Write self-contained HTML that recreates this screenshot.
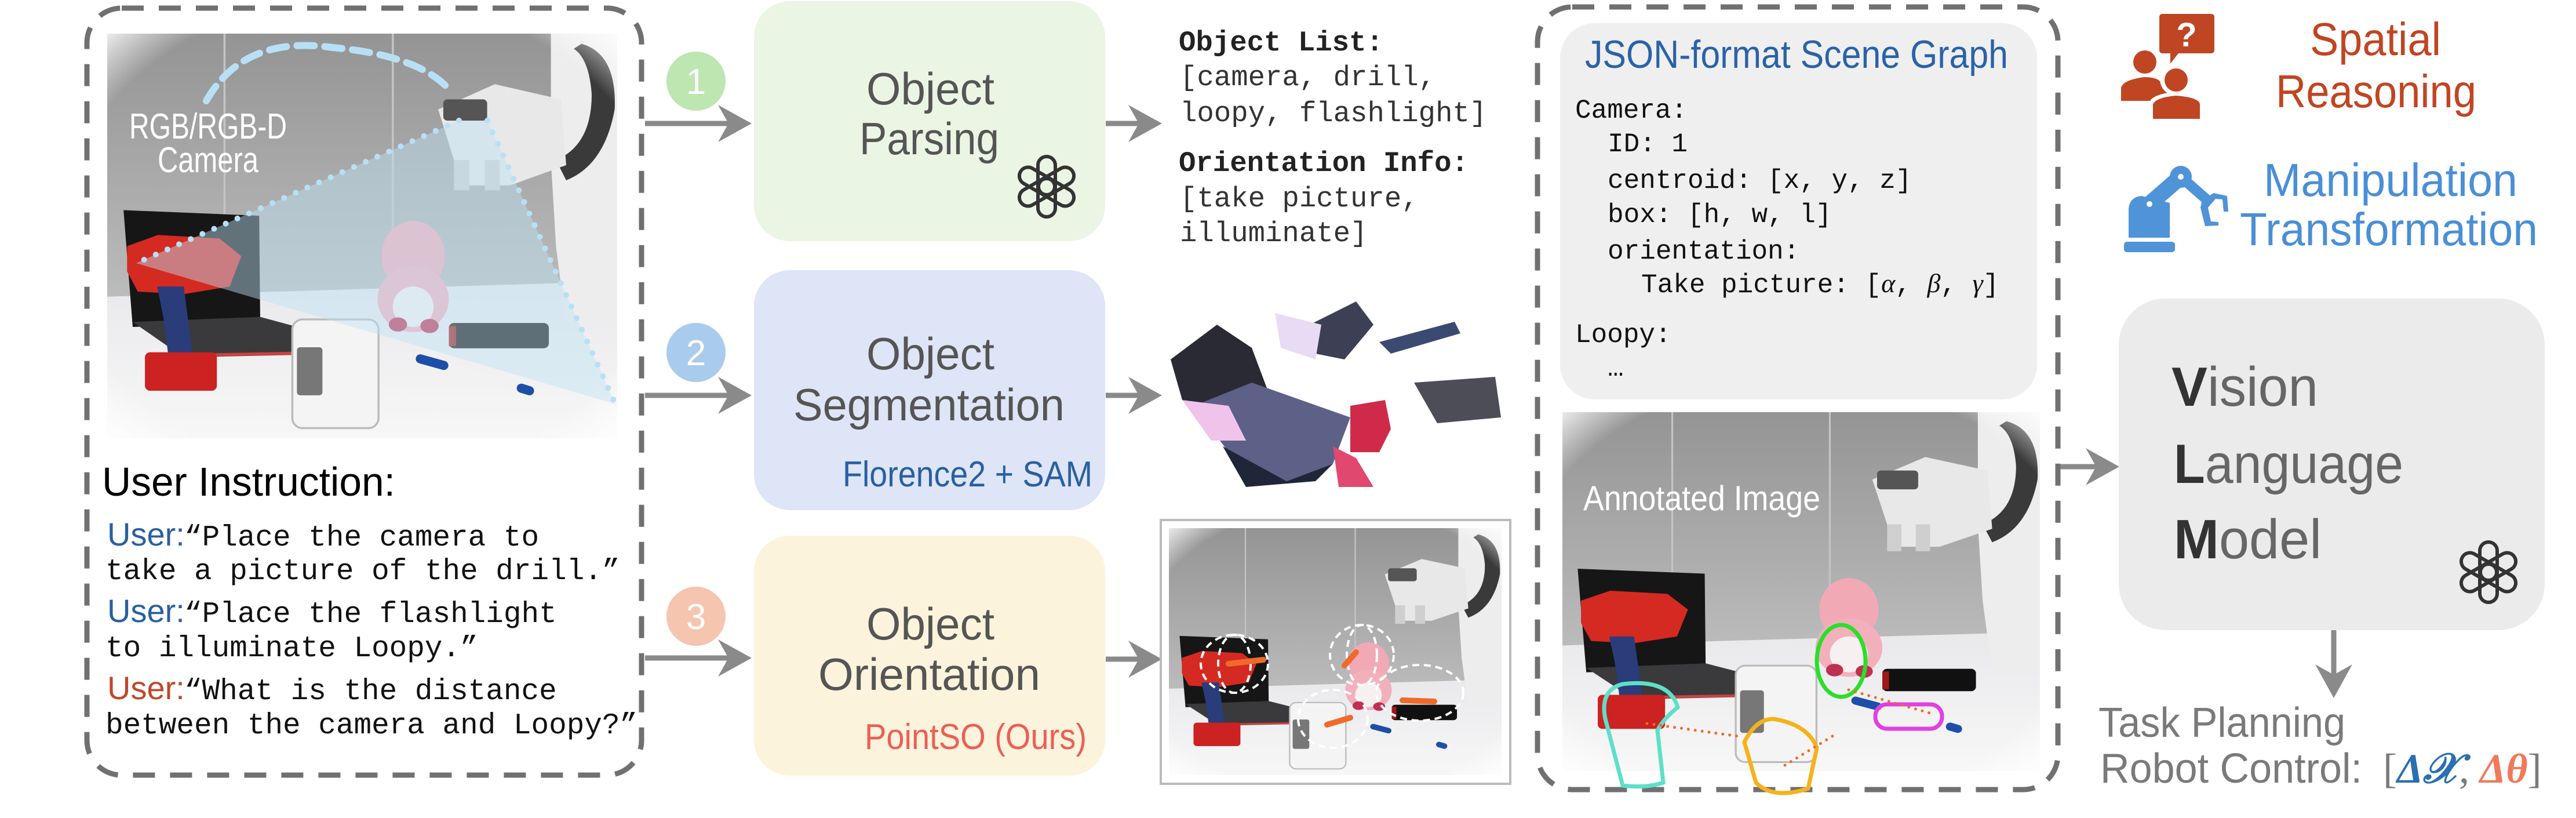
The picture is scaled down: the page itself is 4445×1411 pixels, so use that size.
<!DOCTYPE html>
<html><head><meta charset="utf-8"><style>
html,body{margin:0;padding:0;background:#fff;}
svg{display:block;}
.sn{font-family:"Liberation Sans Narrow","Liberation Sans",sans-serif;}
.mo{font-family:"Liberation Mono",monospace;}
</style></head><body>
<svg width="4445" height="1411" viewBox="0 0 4445 1411" xmlns="http://www.w3.org/2000/svg">
<defs>
<linearGradient id="wall" x1="0" y1="0" x2="0" y2="1"><stop offset="0" stop-color="#949494"/><stop offset="1" stop-color="#bcbcbc"/></linearGradient>
<linearGradient id="table" x1="0" y1="0" x2="0" y2="1"><stop offset="0" stop-color="#e9e9ec"/><stop offset="1" stop-color="#f7f7f7"/></linearGradient>
<radialGradient id="vig" cx="0.5" cy="0.5" r="0.72"><stop offset="0.82" stop-color="#fff" stop-opacity="0"/><stop offset="1" stop-color="#fff" stop-opacity="0.9"/></radialGradient>
<symbol id="scene" viewBox="0 0 1000 800" preserveAspectRatio="none">
 <rect x="0" y="0" width="1000" height="530" fill="url(#wall)"/>
 <line x1="230" y1="0" x2="230" y2="520" stroke="#c4c4c4" stroke-width="4"/>
 <line x1="560" y1="0" x2="560" y2="520" stroke="#c4c4c4" stroke-width="4"/>
 <polygon points="0,520 1000,490 1000,800 0,800" fill="url(#table)"/>
 <polygon points="32,349 298,360 300,570 50,580" fill="#161616"/>
 <polygon points="50,570 300,560 483,610 470,633 150,640" fill="#3a3a3c"/>
 <line x1="150" y1="636" x2="470" y2="630" stroke="#d04040" stroke-width="6"/>
 <polygon points="39,420 100,398 220,405 263,440 240,500 150,515 60,510 39,470" fill="#d42a22"/>
 <polygon points="98,500 150,500 167,630 120,638 110,560" fill="#2a3c7a"/>
 <rect x="74" y="630" width="141" height="76" rx="10" fill="#cc2222"/>
 <ellipse cx="600" cy="440" rx="62" ry="70" fill="#f2a9b6"/>
 <ellipse cx="600" cy="525" rx="70" ry="65" fill="#f2b0bd"/>
 <ellipse cx="600" cy="540" rx="40" ry="40" fill="#f7f0f0"/>
 <ellipse cx="570" cy="575" rx="18" ry="14" fill="#c03050"/><ellipse cx="632" cy="578" rx="18" ry="14" fill="#c03050"/>
 <rect x="363" y="565" width="169" height="215" rx="20" fill="#f4f4f4" stroke="#bbb" stroke-width="4"/>
 <rect x="372" y="620" width="50" height="95" rx="6" fill="#777"/>
 <rect x="670" y="572" width="196" height="50" rx="10" fill="#111"/>
 <rect x="670" y="578" width="14" height="40" fill="#a01818"/>
 <line x1="614" y1="643" x2="828" y2="706" stroke="#f2f2f2" stroke-width="18" stroke-linecap="round"/>
 <line x1="614" y1="643" x2="660" y2="656" stroke="#1e4fa8" stroke-width="18" stroke-linecap="round"/>
 <line x1="812" y1="701" x2="828" y2="706" stroke="#1e4fa8" stroke-width="18" stroke-linecap="round"/>
 <path d="M870,0 L1000,0 L1000,570 L900,580 L880,420 L870,250 Z" fill="#ededed"/>
 <path d="M930,20 Q1000,40 995,150 Q975,260 900,290 L880,250 Q950,220 950,120 Q945,50 915,30 Z" fill="#3a3a3a"/>
 <path d="M649,150 L760,100 L890,130 L900,260 L790,300 L700,300 L680,250 Z" fill="#e8e8e8"/>
 <rect x="659" y="130" width="86" height="42" rx="8" fill="#555"/>
 <rect x="680" y="250" width="30" height="60" fill="#cfcfcf"/><rect x="740" y="250" width="30" height="60" fill="#cfcfcf"/>
 <rect x="0" y="0" width="1000" height="800" fill="url(#vig)"/>
</symbol>
<symbol id="gpt" viewBox="-60 -60 120 120">
 <g fill="none" stroke="#333" stroke-width="6">
  <rect x="-15" y="-52" width="30" height="66" rx="15"/>
  <rect x="-15" y="-52" width="30" height="66" rx="15" transform="rotate(60)"/>
  <rect x="-15" y="-52" width="30" height="66" rx="15" transform="rotate(120)"/>
  <rect x="-15" y="-52" width="30" height="66" rx="15" transform="rotate(180)"/>
  <rect x="-15" y="-52" width="30" height="66" rx="15" transform="rotate(240)"/>
  <rect x="-15" y="-52" width="30" height="66" rx="15" transform="rotate(300)"/>
 </g>
</symbol>
<g id="ah"><polygon points="0,0 -58,-32 -40,0 -58,32" fill="#8a8a8a"/></g>
</defs>

<rect x="150" y="14" width="957" height="1323" rx="60" fill="none" stroke="#707070" stroke-width="9" stroke-dasharray="38 26"/>
<use href="#scene" x="185" y="58" width="880" height="698"/>
<polygon points="792,208 841,208 1062,697 235,454" fill="#bfe3f5" opacity="0.45"/>
<path d="M356,174 Q420,60 574,82 Q720,95 774,153" fill="none" stroke="#b8e0f5" stroke-width="12" stroke-dasharray="30 18" stroke-linecap="round"/>
<line x1="792" y1="208" x2="235" y2="454" stroke="#b8e0f5" stroke-width="10" stroke-dasharray="0 22" stroke-linecap="round"/>
<line x1="841" y1="208" x2="1062" y2="697" stroke="#b8e0f5" stroke-width="10" stroke-dasharray="0 22" stroke-linecap="round"/>
<text class="sn" x="223" y="239" font-size="62" fill="#fff" textLength="272" lengthAdjust="spacingAndGlyphs">RGB/RGB-D</text>
<text class="sn" x="272" y="297" font-size="62" fill="#fff" textLength="174" lengthAdjust="spacingAndGlyphs">Camera</text>
<text class="sn" x="176" y="855" font-size="70" fill="#000" textLength="506" lengthAdjust="spacingAndGlyphs">User Instruction:</text>
<g class="mo" font-size="51" fill="#111">
<text x="185" y="941"><tspan class="sn" fill="#2a5fa0" font-size="56">User:</tspan><tspan x="318">“Place the camera to</tspan></text>
<text x="182" y="999">take a picture of the drill.”</text>
<text x="185" y="1073"><tspan class="sn" fill="#2a5fa0" font-size="56">User:</tspan><tspan x="318">“Place the flashlight</tspan></text>
<text x="182" y="1132">to illuminate Loopy.”</text>
<text x="185" y="1206"><tspan class="sn" fill="#c0472a" font-size="56">User:</tspan><tspan x="318">“What is the distance</tspan></text>
<text x="182" y="1265">between the camera and Loopy?”</text>
</g>

<circle cx="1201" cy="140" r="51" fill="#bde6b1"/><text class="sn" x="1201" y="162" font-size="62" fill="#fff" text-anchor="middle">1</text>
<circle cx="1201" cy="608" r="51" fill="#a9cbec"/><text class="sn" x="1201" y="630" font-size="62" fill="#fff" text-anchor="middle">2</text>
<circle cx="1201" cy="1063" r="51" fill="#f5c5af"/><text class="sn" x="1201" y="1085" font-size="62" fill="#fff" text-anchor="middle">3</text>
<g stroke="#8a8a8a" stroke-width="9">
<line x1="1113" y1="213" x2="1260" y2="213"/><line x1="1113" y1="682" x2="1260" y2="682"/><line x1="1113" y1="1135" x2="1260" y2="1135"/>
<line x1="1908" y1="213" x2="1965" y2="213"/><line x1="1908" y1="682" x2="1965" y2="682"/><line x1="1908" y1="1137" x2="1965" y2="1137"/>
<line x1="3553" y1="805" x2="3620" y2="805"/><line x1="4027" y1="1087" x2="4027" y2="1170"/>
</g>
<use href="#ah" transform="translate(1297,213)"/><use href="#ah" transform="translate(1297,682)"/><use href="#ah" transform="translate(1297,1135)"/>
<use href="#ah" transform="translate(2005,213)"/><use href="#ah" transform="translate(2005,682)"/><use href="#ah" transform="translate(2005,1137)"/>
<use href="#ah" transform="translate(3657,805)"/><use href="#ah" transform="translate(4027,1204) rotate(90)"/>

<rect x="1301" y="2" width="606" height="414" rx="62" fill="#ebf5e4"/>
<rect x="1301" y="466" width="606" height="414" rx="62" fill="#dde5f6"/>
<rect x="1301" y="924" width="606" height="414" rx="62" fill="#fbf3db"/>
<g class="sn" fill="#555" font-size="78">
<text x="1495" y="180" textLength="221" lengthAdjust="spacingAndGlyphs">Object</text>
<text x="1483" y="266" textLength="241" lengthAdjust="spacingAndGlyphs">Parsing</text>
<text x="1495" y="637" textLength="221" lengthAdjust="spacingAndGlyphs">Object</text>
<text x="1369" y="725" textLength="468" lengthAdjust="spacingAndGlyphs">Segmentation</text>
<text x="1495" y="1103" textLength="221" lengthAdjust="spacingAndGlyphs">Object</text>
<text x="1412" y="1190" textLength="383" lengthAdjust="spacingAndGlyphs">Orientation</text>
</g>
<text class="sn" x="1454" y="839" font-size="62" fill="#2a5fa0" textLength="431" lengthAdjust="spacingAndGlyphs">Florence2 + SAM</text>
<text class="sn" x="1492" y="1292" font-size="62" fill="#ea5f58" textLength="383" lengthAdjust="spacingAndGlyphs">PointSO (Ours)</text>
<use href="#gpt" x="1746" y="262" width="120" height="120"/>

<g class="mo" font-size="49" fill="#333">
<text x="2034" y="87" font-weight="bold" fill="#222">Object List:</text>
<text x="2036" y="147">[camera, drill,</text>
<text x="2036" y="209">loopy, flashlight]</text>
<text x="2034" y="295" font-weight="bold" fill="#222">Orientation Info:</text>
<text x="2036" y="356">[take picture,</text>
<text x="2036" y="416">illuminate]</text>
</g>

<g>
<polygon points="2020,620 2100,560 2160,600 2190,680 2160,720 2080,720 2040,690" fill="#2a2a34"/>
<polygon points="2060,700 2160,660 2330,720 2300,800 2220,830 2120,780" fill="#5d6188"/>
<polygon points="2110,770 2220,830 2300,800 2270,830 2150,840" fill="#20263a"/>
<polygon points="2040,690 2120,700 2150,760 2090,760" fill="#f0c4ea"/>
<polygon points="2260,560 2340,520 2370,560 2320,620 2270,610" fill="#3d3f55"/>
<polygon points="2200,540 2280,560 2270,620 2210,600" fill="#e8dcf4"/>
<polygon points="2380,590 2510,555 2520,575 2400,610" fill="#3a4a70"/>
<polygon points="2440,660 2580,650 2590,720 2480,730" fill="#2e2e3a" opacity="0.85"/>
<polygon points="2330,700 2390,690 2400,740 2380,780 2330,780" fill="#d02a4a"/>
<polygon points="2300,770 2340,790 2370,840 2310,840" fill="#e04870"/>
</g>

<rect x="2003" y="897" width="603" height="455" fill="#fff" stroke="#bbb" stroke-width="4"/>
<use href="#scene" x="2017" y="911" width="574" height="426"/>
<g fill="none" stroke="#fff" stroke-width="4" stroke-dasharray="12 8">
<ellipse cx="2130" cy="1145" rx="58" ry="50"/><ellipse cx="2130" cy="1145" rx="28" ry="50"/>
<ellipse cx="2350" cy="1130" rx="55" ry="52"/><ellipse cx="2350" cy="1130" rx="26" ry="52"/>
<ellipse cx="2300" cy="1240" rx="60" ry="50"/><ellipse cx="2450" cy="1195" rx="75" ry="48"/>
</g>
<g stroke="#f06a2a" stroke-width="10" stroke-linecap="round">
<line x1="2120" y1="1145" x2="2180" y2="1138"/><line x1="2340" y1="1125" x2="2320" y2="1148"/>
<line x1="2290" y1="1250" x2="2330" y2="1238"/><line x1="2475" y1="1210" x2="2420" y2="1208"/>
</g>

<rect x="2653" y="12" width="898" height="1350" rx="60" fill="none" stroke="#707070" stroke-width="9" stroke-dasharray="38 26"/>
<rect x="2692" y="40" width="823" height="649" rx="60" fill="#efefef"/>
<text class="sn" x="2735" y="117" font-size="68" fill="#2a62a8" textLength="730" lengthAdjust="spacingAndGlyphs">JSON-format Scene Graph</text>
<g class="mo" font-size="46" fill="#111">
<text x="2718" y="203">Camera:</text>
<text x="2774" y="261">ID: 1</text>
<text x="2774" y="324">centroid: [x, y, z]</text>
<text x="2774" y="383">box: [h, w, l]</text>
<text x="2774" y="446">orientation:</text>
<text x="2832" y="504">Take picture: [<tspan font-family="Liberation Serif,serif" font-style="italic">α</tspan>, <tspan font-family="Liberation Serif,serif" font-style="italic">β</tspan>, <tspan font-family="Liberation Serif,serif" font-style="italic">γ</tspan>]</text>
<text x="2718" y="590">Loopy:</text>
<text x="2774" y="648">…</text>
</g>
<use href="#scene" x="2696" y="711" width="824" height="619"/>
<g fill="none" stroke-width="7">
<path d="M2770,1240 Q2760,1190 2800,1180 Q2880,1170 2895,1220 Q2870,1240 2860,1260 L2870,1350 Q2840,1360 2800,1355 Z" stroke="#5de0c8"/>
<ellipse cx="3177" cy="1140" rx="42" ry="62" stroke="#2adf2a"/>
<path d="M3010,1280 Q3030,1240 3060,1240 Q3120,1250 3135,1290 L3120,1360 Q3060,1380 3030,1350 Z" stroke="#f5b21a"/>
<rect x="3236" y="1215" width="115" height="42" rx="20" stroke="#e040e0"/>
</g>
<g stroke="#f06a2a" stroke-width="5" stroke-dasharray="0 12" stroke-linecap="round">
<line x1="2842" y1="1248" x2="3000" y2="1270"/><line x1="3080" y1="1320" x2="3170" y2="1265"/><line x1="3190" y1="1190" x2="3330" y2="1230"/>
</g>
<text class="sn" x="2732" y="880" font-size="60" fill="#fff" textLength="409" lengthAdjust="spacingAndGlyphs">Annotated Image</text>

<g fill="#c04522">
<rect x="3726" y="24" width="95" height="68" rx="5"/><polygon points="3745,88 3762,88 3745,110"/>
<circle cx="3701" cy="107" r="20"/>
<path d="M3660,174 L3660,152 Q3662,138 3700,133 Q3720,133 3727,140 Q3730,155 3740,160 Q3715,165 3710,174 Z"/>
<circle cx="3755" cy="138" r="20"/>
<path d="M3715,205 L3715,180 Q3720,168 3755,165 Q3795,168 3796,180 L3796,205 Z"/>
</g>
<text x="3773" y="80" font-family="Liberation Sans,sans-serif" font-size="58" font-weight="bold" fill="#fff" text-anchor="middle">?</text>
<g fill="#4f93d8">
<rect x="3665" y="417" width="88" height="18" rx="5"/>
<path d="M3673,410 L3673,360 Q3675,340 3695,338 L3744,350 L3744,410 Z"/>
<line x1="3709" y1="352" x2="3763" y2="305" stroke="#4f93d8" stroke-width="28" stroke-linecap="round"/>
<line x1="3763" y1="305" x2="3812" y2="348" stroke="#4f93d8" stroke-width="18"/>
<circle cx="3763" cy="305" r="19"/>
<path d="M3800,345 L3820,333 L3843,338 L3845,365 L3837,365 L3835,344 L3823,343 L3810,358 L3815,382 L3828,383 L3828,389 L3805,390 L3797,358 Z"/>
</g>
<circle cx="3763" cy="305" r="5" fill="#fff"/><circle cx="3709" cy="352" r="5" fill="#fff"/>
<text class="sn" x="3986" y="95" font-size="80" fill="#c04522" textLength="226" lengthAdjust="spacingAndGlyphs">Spatial</text>
<text class="sn" x="3927" y="185" font-size="80" fill="#c04522" textLength="346" lengthAdjust="spacingAndGlyphs">Reasoning</text>
<text class="sn" x="3906" y="338" font-size="80" fill="#4a8fd6" textLength="438" lengthAdjust="spacingAndGlyphs">Manipulation</text>
<text class="sn" x="3865" y="423" font-size="80" fill="#4a8fd6" textLength="514" lengthAdjust="spacingAndGlyphs">Transformation</text>

<rect x="3656" y="515" width="735" height="572" rx="80" fill="#ebebeb"/>
<g class="sn" font-size="96" fill="#666">
<text x="3747" y="700" textLength="253" lengthAdjust="spacingAndGlyphs"><tspan fill="#333" font-weight="bold">V</tspan>ision</text>
<text x="3751" y="833" textLength="396" lengthAdjust="spacingAndGlyphs"><tspan fill="#333" font-weight="bold">L</tspan>anguage</text>
<text x="3751" y="963" textLength="255" lengthAdjust="spacingAndGlyphs"><tspan fill="#333" font-weight="bold">M</tspan>odel</text>
</g>
<use href="#gpt" x="4234" y="927" width="120" height="120"/>
<text class="sn" x="3621" y="1271" font-size="72" fill="#7a7a7a" textLength="426" lengthAdjust="spacingAndGlyphs">Task Planning</text>
<text class="sn" x="3624" y="1350" font-size="72" fill="#7a7a7a" textLength="452" lengthAdjust="spacingAndGlyphs">Robot Control:</text>
<text x="4112" y="1350" font-family="Liberation Serif,serif" font-size="72" fill="#7a7a7a">[<tspan fill="#2a6fb0" font-weight="bold" font-style="italic">Δ𝒳</tspan>, <tspan fill="#f07a5a" font-weight="bold" font-style="italic">Δθ</tspan>]</text>
</svg>
</body></html>
